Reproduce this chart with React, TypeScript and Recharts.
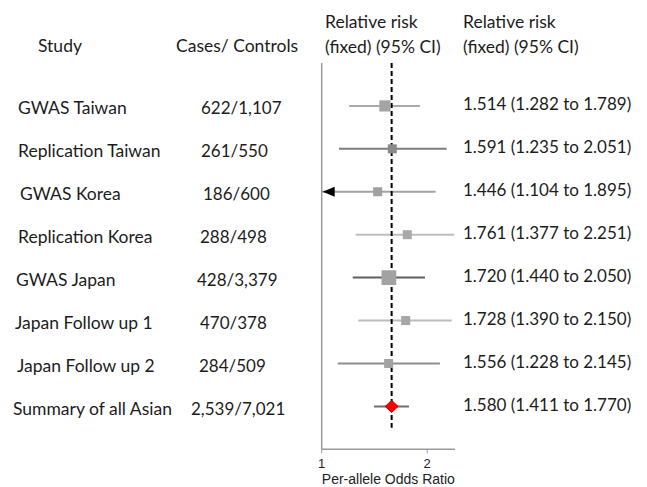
import React from "react";
import {
  ScatterChart,
  Scatter,
  XAxis,
  YAxis,
  ReferenceLine,
} from "recharts";

// study rows, top to bottom
const studies = [
  "GWAS Taiwan",
  "Replication Taiwan",
  "GWAS Korea",
  "Replication Korea",
  "GWAS  Japan",
  "Japan Follow up 1",
  "Japan Follow up 2",
  "Summary of all Asian",
];
const casesControls = [
  "622/1,107",
  "261/550",
  "186/600",
  "288/498",
  "428/3,379",
  "470/378",
  "284/509",
  "2,539/7,021",
];
const rrLabels = [
  "1.514 (1.282 to 1.789)",
  "1.591 (1.235 to 2.051)",
  "1.446 (1.104 to 1.895)",
  "1.761 (1.377 to 2.251)",
  "1.720 (1.440 to 2.050)",
  "1.728 (1.390 to 2.150)",
  "1.556 (1.228 to 2.145)",
  "1.580 (1.411 to 1.770)",
];

// values as drawn on the plot (log axis)
const estimates = [1.515, 1.59, 1.444, 1.754, 1.555, 1.736, 1.552];
const lowerCI = [1.198, 1.12, 1.0, 1.25, 1.226, 1.272, 1.111];
const upperCI = [1.906, 2.272, 2.113, 2.388, 1.97, 2.347, 2.174];
const weights = [14, 9, 9, 9, 24, 9, 9];
const truncatedLow = [false, false, true, false, false, false, false];

const pooledEstimate = 1.583;
const pooledLower = 1.41;
const pooledUpper = 1.774;

const xTicks = [1, 2];

// styling
const lineColors = ["#a9a9a9", "#7d7d7d", "#a3a3a3", "#bebebe", "#5f5f5f", "#bcbcbc", "#8e8e8e"];
const boxColors = ["#a4a4a4", "#8a8a8a", "#a0a0a0", "#a8a8a8", "#a2a2a2", "#a6a6a6", "#a3a3a3"];
const studyX = [18, 18, 20, 18, 16, 15, 17, 13];
const casesX = [201, 201, 203, 200, 197, 200, 199, 191];

const TEXT_FONT = "Lato, 'Open Sans', sans-serif";
const AXIS_FONT = "'Liberation Sans', Arial, sans-serif";
const TEXT_COLOR = "#1c1c1c";
const TEXT_SIZE = 17;
const STUDY_SIZE = 17.5;

const points = estimates.map((x, i) => ({
  x,
  y: i,
  size: Math.sqrt(weights[i]) * 3,
  fill: boxColors[i],
}));
const arrows = estimates
  .map((_, i) => ({ x: lowerCI[i], y: i, show: truncatedLow[i] }))
  .filter((p) => p.show);
const pooled = [{ x: pooledEstimate, y: studies.length - 1 }];
const rowTicks = studies.map((_, i) => i);

function BoxShape(props: any) {
  const { cx, cy, payload } = props;
  const s = payload.size;
  return <rect x={cx - s / 2} y={cy - s / 2} width={s} height={s} fill={payload.fill} />;
}

function DiamondShape(props: any) {
  const { cx, cy } = props;
  const w = 6.5;
  const h = 6;
  return (
    <polygon
      points={`${cx - w},${cy} ${cx},${cy - h} ${cx + w},${cy} ${cx},${cy + h}`}
      fill="#ff0000"
      stroke="#c00000"
      strokeWidth={1}
    />
  );
}

function ArrowShape(props: any) {
  const { cx, cy } = props;
  return (
    <polygon
      points={`${cx + 1},${cy} ${cx + 13},${cy - 5} ${cx + 13},${cy + 5}`}
      fill="#000"
    />
  );
}

function LeftTick(props: any) {
  const { y, payload } = props;
  const i = payload.value;
  return (
    <g fontFamily={TEXT_FONT} fill={TEXT_COLOR}>
      <text x={studyX[i]} y={y + 2} dominantBaseline="central" fontSize={STUDY_SIZE}>
        {studies[i]}
      </text>
      <text x={casesX[i]} y={y + 2} dominantBaseline="central" fontSize={TEXT_SIZE}>
        {casesControls[i]}
      </text>
    </g>
  );
}

function RightTick(props: any) {
  const { y, payload } = props;
  const i = payload.value;
  return (
    <text
      x={463}
      y={y - 2}
      dominantBaseline="central"
      fontFamily={TEXT_FONT}
      fontSize={TEXT_SIZE}
      fill={TEXT_COLOR}
    >
      {rrLabels[i]}
    </text>
  );
}

function Headers() {
  const t = { fontFamily: TEXT_FONT, fontSize: STUDY_SIZE, fill: TEXT_COLOR };
  return (
    <svg
      width={647}
      height={70}
      style={{ position: "absolute", left: 0, top: 0, pointerEvents: "none" }}
    >
      <text x={38} y={45} dominantBaseline="central" {...t}>Study</text>
      <text x={176} y={45} dominantBaseline="central" {...t}>Cases/ Controls</text>
      <text x={325} y={21} dominantBaseline="central" {...t}>Relative risk</text>
      <text x={325} y={46} dominantBaseline="central" {...t}>(fixed) (95% CI)</text>
      <text x={463} y={21} dominantBaseline="central" {...t}>Relative risk</text>
      <text x={463} y={46} dominantBaseline="central" {...t}>(fixed) (95% CI)</text>
    </svg>
  );
}

export default function App() {
  return (
    <div style={{ position: "absolute", left: 0, top: 0, width: 647, height: 487, background: "#fff" }}>
      <ScatterChart
        width={647}
        height={487}
        margin={{ top: 63, right: 182, bottom: 0, left: 311.7 }}
      >
        <XAxis
          type="number"
          dataKey="x"
          scale="log"
          domain={[1, 2.4]}
          ticks={xTicks}
          allowDataOverflow
          axisLine={{ stroke: "#9a9a9a", strokeWidth: 1.5 }}
          tickLine={{ stroke: "#9a9a9a" }}
          tickSize={4}
          tickMargin={5}
          tick={{ fontFamily: AXIS_FONT, fontSize: 13, fill: "#222" }}
          height={37.7}
          label={{
            value: "Per-allele Odds Ratio",
            position: "insideBottom",
            offset: 3,
            style: { fontFamily: AXIS_FONT, fontSize: 14, fill: "#222" },
          }}
        />
        <YAxis
          yAxisId="left"
          type="number"
          dataKey="y"
          domain={[-1, 8]}
          reversed
          ticks={rowTicks}
          interval={0}
          width={10}
          axisLine={{ stroke: "#9a9a9a", strokeWidth: 1.5 }}
          tickLine={false}
          tick={<LeftTick />}
        />
        <YAxis
          yAxisId="right"
          orientation="right"
          type="number"
          dataKey="y"
          domain={[-1, 8]}
          reversed
          ticks={rowTicks}
          interval={0}
          width={10}
          axisLine={false}
          tickLine={false}
          tick={<RightTick />}
        />
        {estimates.map((_, i) => (
          <ReferenceLine
            key={i}
            yAxisId="left"
            segment={[
              { x: lowerCI[i], y: i },
              { x: upperCI[i], y: i },
            ]}
            stroke={lineColors[i]}
            strokeWidth={2}
            ifOverflow="visible"
          />
        ))}
        <ReferenceLine
          yAxisId="left"
          segment={[
            { x: pooledLower, y: studies.length - 1 },
            { x: pooledUpper, y: studies.length - 1 },
          ]}
          stroke="#6f6f6f"
          strokeWidth={2}
        />
        <Scatter
          yAxisId="right"
          data={pooled}
          shape={() => <g />}
          isAnimationActive={false}
        />
        <Scatter yAxisId="left" data={points} shape={BoxShape} isAnimationActive={false} />
        <Scatter yAxisId="left" data={arrows} shape={ArrowShape} isAnimationActive={false} />
        <Scatter yAxisId="left" data={pooled} shape={DiamondShape} isAnimationActive={false} />
        <ReferenceLine
          yAxisId="left"
          segment={[
            { x: pooledEstimate, y: -1 },
            { x: pooledEstimate, y: 7.5 },
          ]}
          stroke="#000"
          strokeWidth={2}
          strokeDasharray="5 3"
        />
      </ScatterChart>
      <Headers />
    </div>
  );
}
